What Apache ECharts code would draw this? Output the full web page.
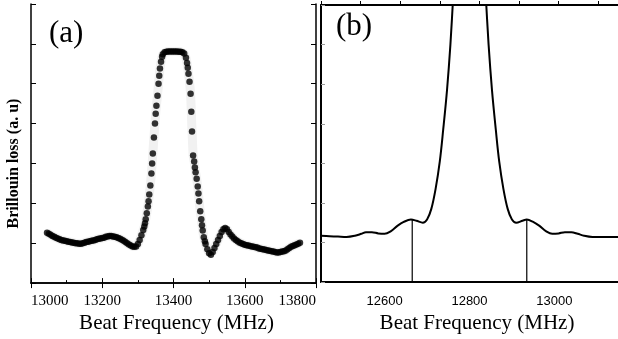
<!DOCTYPE html>
<html>
<head>
<meta charset="utf-8">
<script src="https://cdn.jsdelivr.net/npm/echarts@6/dist/echarts.min.js"></script>
<style>html,body{margin:0;padding:0;background:#fff}#c{width:618px;height:339px}</style>
</head>
<body>
<div id="c"></div>
<script>
// Panel (a): measured Brillouin loss (scatter)
const freqA = [13045,13050,13055,13060,13065,13070,13075,13080,13085,13090,13095,13100,13105,13110,13115,13120,13125,13130,13135,13140,13145,13150,13155,13160,13165,13170,13175,13180,13185,13190,13195,13200,13205,13210,13215,13220,13225,13230,13235,13240,13245,13250,13255,13260,13265,13270,13275,13280,13285,13290,13295,13300,13305,13310,13315,13318,13320,13322,13325,13328,13330,13332,13335,13338,13340,13342,13345,13348,13350,13352,13355,13358,13360,13362,13365,13368,13370,13375,13380,13385,13390,13395,13400,13405,13410,13415,13420,13425,13430,13435,13438,13440,13442,13445,13448,13450,13452,13455,13458,13460,13462,13465,13468,13470,13472,13475,13478,13480,13482,13485,13488,13490,13495,13500,13505,13510,13515,13520,13525,13530,13535,13540,13545,13550,13555,13560,13565,13570,13575,13580,13585,13590,13595,13600,13605,13610,13615,13620,13625,13630,13635,13640,13645,13650,13655,13660,13665,13670,13675,13680,13685,13690,13695,13700,13705,13710,13715,13720,13725,13730,13735,13740,13745,13750,13755];
const lossA = [1.26,1.24,1.21,1.18,1.16,1.14,1.12,1.10,1.08,1.07,1.06,1.05,1.04,1.03,1.02,1.01,1.00,1.00,0.99,0.99,1.00,1.01,1.03,1.04,1.05,1.06,1.07,1.08,1.10,1.11,1.12,1.13,1.14,1.16,1.17,1.18,1.18,1.17,1.16,1.15,1.13,1.11,1.09,1.06,1.03,1.00,0.97,0.94,0.92,0.91,0.92,0.98,1.08,1.20,1.33,1.42,1.50,1.60,1.75,1.92,2.05,2.22,2.45,2.75,3.00,3.25,3.65,4.00,4.25,4.45,4.70,5.00,5.20,5.38,5.55,5.68,5.74,5.79,5.80,5.81,5.81,5.81,5.81,5.81,5.81,5.80,5.80,5.79,5.76,5.65,5.52,5.40,5.25,5.05,4.75,4.30,3.80,3.20,3.05,2.90,2.78,2.62,2.42,2.25,2.05,1.80,1.60,1.45,1.32,1.15,1.05,0.98,0.85,0.75,0.71,0.78,0.88,0.98,1.08,1.18,1.28,1.35,1.38,1.35,1.28,1.22,1.17,1.12,1.08,1.05,1.02,1.00,0.98,0.96,0.95,0.94,0.93,0.92,0.91,0.90,0.89,0.87,0.86,0.85,0.84,0.83,0.82,0.81,0.80,0.79,0.78,0.77,0.77,0.78,0.79,0.80,0.82,0.85,0.88,0.91,0.93,0.95,0.97,0.99,1.01];

// Panel (b): calculated spectrum (line)
const freqB = [12450,12470,12490,12510,12530,12545,12556,12570,12585,12600,12615,12630,12645,12662,12675,12690,12700,12710,12720,12730,12738,12747,12755,12762,12770,12785,12800,12815,12830,12838,12845,12853,12862,12870,12880,12890,12900,12910,12925,12935,12950,12965,12980,12995,13010,13025,13040,13055,13070,13090,13110,13130,13150];
const lossB = [1.17,1.16,1.15,1.14,1.17,1.22,1.26,1.26,1.23,1.22,1.29,1.42,1.52,1.58,1.55,1.50,1.58,1.85,2.35,3.05,3.85,4.85,6.0,7.3,8.8,10.5,11.0,10.5,8.8,7.3,6.0,4.85,3.85,3.05,2.35,1.85,1.58,1.50,1.55,1.58,1.52,1.42,1.29,1.22,1.23,1.26,1.26,1.22,1.17,1.14,1.14,1.14,1.14];

// Vertical marker lines in panel (b)
const markerFreqs = [12665, 12935];
const markerTops = [1.58, 1.58];

const ticksA = [13000, 13200, 13400, 13600, 13800];
const ticksB = [12600, 12800, 13000];

const serif = "'Liberation Serif','DejaVu Serif',serif";
const sans = "'Liberation Sans','DejaVu Sans',sans-serif";

const chart = echarts.init(document.getElementById('c'), null, {renderer: 'canvas'});

const axLine = {lineStyle: {color: '#000', width: 1.5}};

const option = {
  animation: false,
  backgroundColor: '#fff',
  grid: [
    {left: 31, top: 4, width: 285, height: 284},
    {left: 321, top: 5, width: 297, height: 282}
  ],
  xAxis: [
    {gridIndex: 0, type: 'value', min: 13000, max: 13800, interval: 200,
     axisLine: axLine, axisTick: {inside: true, length: 5, lineStyle: {color: '#000'}},
     minorTick: {show: true, splitNumber: 2, length: 3, lineStyle: {color: '#000'}},
     splitLine: {show: false},
     axisLabel: {color: '#000', fontFamily: serif, fontSize: 15, margin: 10, alignMinLabel: 'left', alignMaxLabel: 'right',
       formatter: v => ticksA.indexOf(v) >= 0 ? String(v) : ''},
     name: 'Beat Frequency (MHz)', nameLocation: 'middle', nameGap: 23,
     nameTextStyle: {color: '#000', fontFamily: serif, fontSize: 21, padding: [0, 0, 0, 6]}},
    {gridIndex: 0, type: 'value', position: 'top', min: 13000, max: 13800, interval: 200,
     axisLine: axLine, axisTick: {inside: true, length: 5, lineStyle: {color: '#000'}},
     axisLabel: {show: false}, splitLine: {show: false}},
    {gridIndex: 1, type: 'value', min: 12450, max: 13150, interval: 50,
     axisLine: {lineStyle: {color: '#000', width: 2}},
     axisTick: {show: false},
     splitLine: {show: false},
     axisLabel: {color: '#000', fontFamily: sans, fontSize: 13, margin: 13,
       showMinLabel: false, showMaxLabel: false,
       formatter: v => ticksB.indexOf(v) >= 0 ? String(v) : ''},
     name: 'Beat Frequency (MHz)', nameLocation: 'middle', nameGap: 23,
     nameTextStyle: {color: '#000', fontFamily: serif, fontSize: 21, padding: [0, 0, 0, 15]}},
    {gridIndex: 1, type: 'value', position: 'top', min: 12450, max: 13150,
     axisLine: {lineStyle: {color: '#000', width: 2}}, axisTick: {show: false},
     axisLabel: {show: false}, splitLine: {show: false}},
    {gridIndex: 1, type: 'value', min: 12400, max: 13150, interval: 100,
     axisLine: {show: false},
     axisTick: {show: true, length: 4, lineStyle: {color: '#000'}},
     axisLabel: {show: false}, splitLine: {show: false}}
  ],
  yAxis: [
    {gridIndex: 0, type: 'value', min: 0, max: 7, interval: 1,
     axisLine: axLine, axisTick: {inside: true, length: 5, lineStyle: {color: '#000'}},
     axisLabel: {show: false}, splitLine: {show: false},
     name: 'Brillouin loss (a. u)', nameLocation: 'middle', nameGap: 9,
     nameTextStyle: {color: '#000', fontFamily: serif, fontSize: 16, fontWeight: 'bold', padding: [0, 40, 0, 0]}},
    {gridIndex: 0, type: 'value', position: 'right', min: 0, max: 7, interval: 1,
     axisLine: axLine, axisTick: {inside: true, length: 5, lineStyle: {color: '#000'}},
     axisLabel: {show: false}, splitLine: {show: false}},
    {gridIndex: 1, type: 'value', min: 0, max: 7, interval: 1,
     axisLine: {lineStyle: {color: '#000', width: 2}},
     axisTick: {inside: true, length: 4, lineStyle: {color: '#999'}},
     axisLabel: {show: false}, splitLine: {show: false}}
  ],
  series: [
    {type: 'line', xAxisIndex: 0, yAxisIndex: 0, showSymbol: false, silent: true,
     lineStyle: {color: '#f1f1f1', width: 9}, z: 1,
     data: freqA.map((f, i) => [f, lossA[i]])},
    {type: 'scatter', xAxisIndex: 0, yAxisIndex: 0, symbolSize: 6.5,
     itemStyle: {color: '#000'}, z: 3,
     data: freqA.map((f, i) => [f, lossA[i]])},
    {type: 'line', xAxisIndex: 2, yAxisIndex: 2, showSymbol: false, smooth: 0.35, clip: true,
     lineStyle: {color: '#000', width: 2},
     data: freqB.map((f, i) => [f, lossB[i]])},
    ...markerFreqs.map((f, i) => ({
      type: 'line', xAxisIndex: 2, yAxisIndex: 2, showSymbol: false,
      lineStyle: {color: '#000', width: 1.2},
      data: [[f, 0], [f, markerTops[i]]]
    }))
  ],
  graphic: [
    {type: 'text', left: 49, top: 18, style: {text: '(a)', font: "31px 'Liberation Serif', serif", fill: '#000'}},
    {type: 'text', left: 336, top: 11, style: {text: '(b)', font: "31px 'Liberation Serif', serif", fill: '#000'}}
  ]
};
chart.setOption(option);
</script>
</body>
</html>
